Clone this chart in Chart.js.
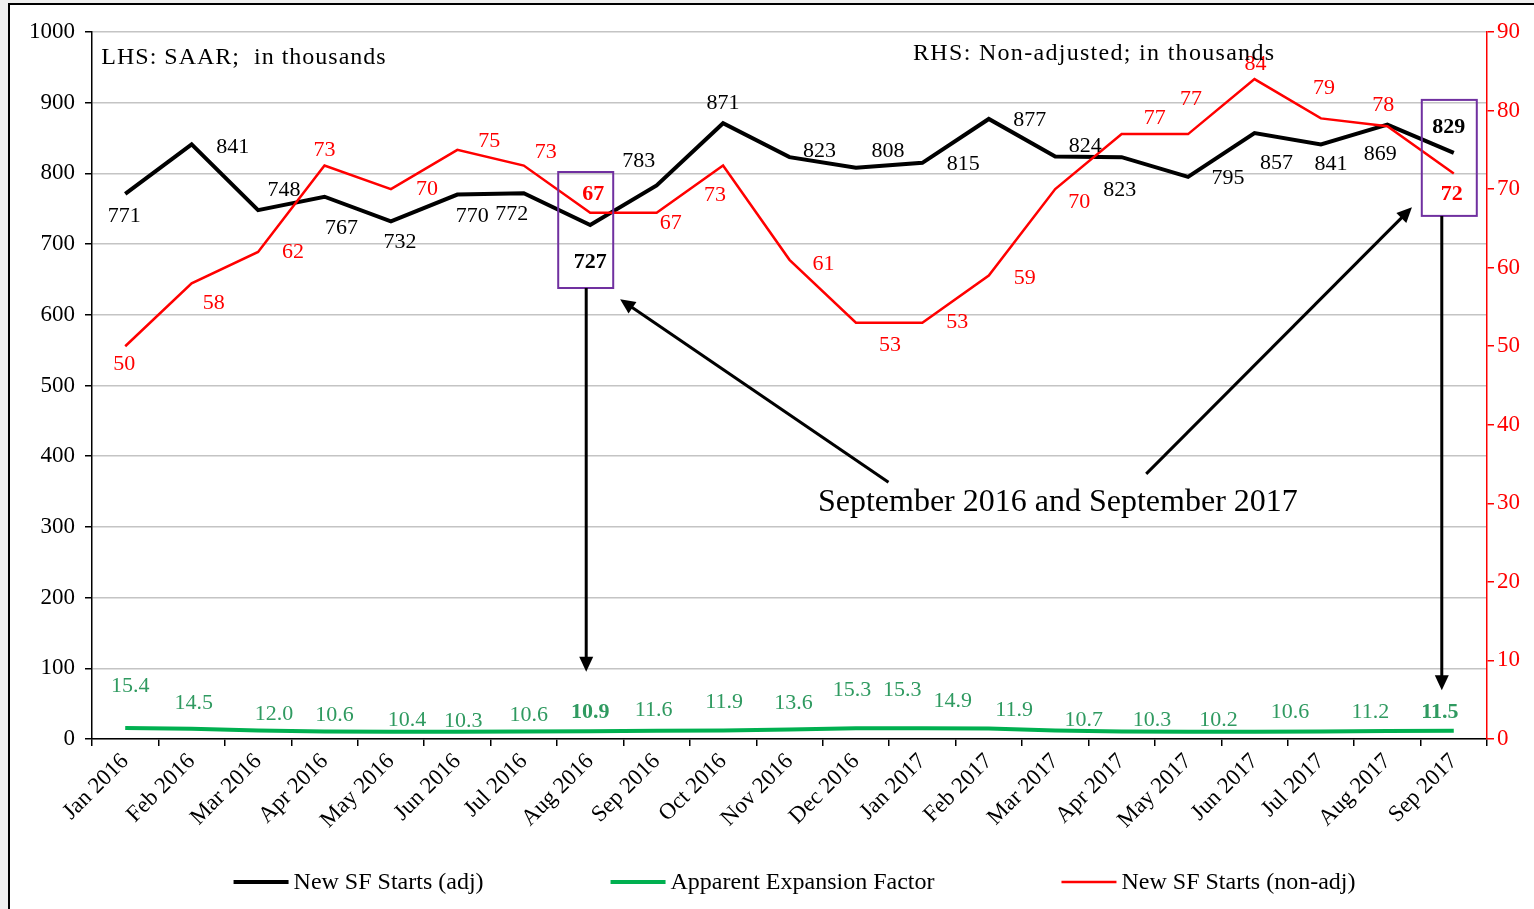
<!DOCTYPE html>
<html><head><meta charset="utf-8">
<script src="https://cdn.jsdelivr.net/npm/chart.js@4/dist/chart.umd.min.js"></script>
<style>
html,body{margin:0;padding:0;background:#efefef;width:1534px;height:909px;overflow:hidden;}
#wrap{position:absolute;left:8px;top:3px;width:1526px;height:906px;background:#fff;border-left:2px solid #000;border-top:2px solid #000;}
canvas{display:block}
</style></head><body>
<div id="wrap"><canvas id="c" width="1524" height="904"></canvas></div>
<script>
const categories = ['Jan 2016','Feb 2016','Mar 2016','Apr 2016','May 2016','Jun 2016','Jul 2016','Aug 2016','Sep 2016','Oct 2016','Nov 2016','Dec 2016','Jan 2017','Feb 2017','Mar 2017','Apr 2017','May 2017','Jun 2017','Jul 2017','Aug 2017','Sep 2017'];
const sfStartsAdj = [771,841,748,767,732,770,772,727,783,871,823,808,815,877,824,823,795,857,841,869,829];
const expansionFactor = [15.4,14.5,12.0,10.6,10.4,10.3,10.6,10.9,11.6,11.9,13.6,15.3,15.3,14.9,11.9,10.7,10.3,10.2,10.6,11.2,11.5];
const sfStartsNonAdj = [50,58,62,73,70,75,73,67,67,73,61,53,53,59,70,77,77,84,79,78,72];
const leftTicks = [0,100,200,300,400,500,600,700,800,900,1000];
const rightTicks = [0,10,20,30,40,50,60,70,80,90];
const highlighted = [7, 20];

// label offsets (styling), in pixels relative to each point
const adjOffsets = [[-1,22],[41,3],[26,-20],[17,31],[9,21],[15,22],[-12,21],[0,37],[-18,-24],[0,-20],[30,-6],[32,-17],[41,1],[41,1],[30,-10],[-2,33],[40,1],[22,30],[10,20],[-7,30],[-5,-26]];
const nonAdjOffsets = [[-1,18],[22,20],[35,0],[0,-15],[36,0],[32,-9],[22,-13],[3,-18],[14,11],[-8,30],[34,4],[34,23],[35,0],[36,3],[24,13],[33,-16],[3,-35],[1,-15],[3,-30],[-4,-21],[-2,21]];
const efOffsets = [[5,-42],[2,-26],[16,-16],[10,-16],[16,-11],[6,-10],[5,-16],[0,-19],[-3,-21],[1,-28],[4,-26],[-4,-38],[-20,-38],[-36,-27],[-41,-20],[-38,-11],[-36,-11],[-36,-12],[-31,-19],[-17,-19],[-14,-19]];

const SERIF = '"Liberation Serif","Times New Roman",serif';

function arrow(ctx, x1, y1, x2, y2){
  const ang = Math.atan2(y2-y1, x2-x1);
  const L = 15, W = 7;
  ctx.beginPath();
  ctx.moveTo(x1,y1);
  ctx.lineTo(x2 - Math.cos(ang)*L*0.8, y2 - Math.sin(ang)*L*0.8);
  ctx.stroke();
  ctx.beginPath();
  ctx.moveTo(x2,y2);
  ctx.lineTo(x2 - Math.cos(ang)*L - Math.sin(ang)*W, y2 - Math.sin(ang)*L + Math.cos(ang)*W);
  ctx.lineTo(x2 - Math.cos(ang)*L + Math.sin(ang)*W, y2 - Math.sin(ang)*L - Math.cos(ang)*W);
  ctx.closePath();
  ctx.fill();
}

const annot = {
  id: 'annot',
  afterDatasetsDraw(chart){
    const ctx = chart.ctx;
    const xs = chart.scales.x, ys = chart.scales.y;
    const P = (i, v) => [xs.getPixelForValue(i), ys.getPixelForValue(v)];
    ctx.save();
    // data labels
    const sets = [
      {ds:0, offs: adjOffsets, color:'#000000'},
      {ds:1, offs: efOffsets, color:'#2f9a60', fmt: v => v.toFixed(1)},
      {ds:2, offs: nonAdjOffsets, color:'#ff0000'}
    ];
    ctx.textAlign = 'center';
    ctx.textBaseline = 'middle';
    sets.forEach(s => {
      const meta = chart.getDatasetMeta(s.ds);
      const data = chart.data.datasets[s.ds].data;
      meta.data.forEach((pt, i) => {
        const bold = highlighted.includes(i);
        ctx.font = (bold ? 'bold ' : '') + '22px ' + SERIF;
        ctx.fillStyle = s.color;
        const txt = s.fmt ? s.fmt(data[i]) : String(data[i]);
        ctx.fillText(txt, pt.x + s.offs[i][0], pt.y + s.offs[i][1]);
      });
    });
    // highlight boxes
    const meta0 = chart.getDatasetMeta(0);
    const arrowTips = [95, 69];
    const arrowDx = [-4, -12];
    highlighted.forEach((i, k) => {
      const pt = meta0.data[i];
      ctx.strokeStyle = '#7030a0';
      ctx.lineWidth = 2;
      ctx.strokeRect(pt.x - 32, pt.y - 53, 55, 116);
      ctx.strokeStyle = '#000'; ctx.fillStyle = '#000'; ctx.lineWidth = 3;
      arrow(ctx, pt.x + arrowDx[k], pt.y + 63, pt.x + arrowDx[k], ys.getPixelForValue(arrowTips[k]));
    });
    // diagonal arrows
    ctx.strokeStyle = '#000'; ctx.fillStyle = '#000'; ctx.lineWidth = 3;
    let a = P(11.49, 363), b = P(7.45, 622);
    arrow(ctx, a[0], a[1], b[0], b[1]);
    a = P(15.37, 375); b = P(19.37, 752);
    arrow(ctx, a[0], a[1], b[0], b[1]);
    // texts
    ctx.fillStyle = '#000';
    ctx.font = '32px ' + SERIF;
    ctx.textAlign = 'center';
    let t = P(14.04, 334);
    ctx.fillText('September 2016 and September 2017', t[0], t[1]);
    ctx.font = '24px ' + SERIF;
    ctx.textAlign = 'left';
    ctx.letterSpacing = '1px';
    t = P(-0.36, 963);
    ctx.fillText('LHS: SAAR;  in thousands', t[0], t[1]);
    ctx.letterSpacing = '1.3px';
    t = P(11.86, 969);
    ctx.fillText('RHS: Non-adjusted; in thousands', t[0], t[1]);
    ctx.letterSpacing = '0px';
    // legend
    ctx.font = '24px ' + SERIF;
    ctx.textBaseline = 'middle';
    const lineW = 55, gapTxt = 5, gapItem = 127;
    const items = chart.data.datasets.map(d => ({label: d.label, color: d.borderColor, w: d.borderWidth}));
    const widths = items.map(it => lineW + gapTxt + ctx.measureText(it.label).width);
    const total = widths.reduce((s, w) => s + w, 0) + gapItem * (items.length - 1);
    const ca = chart.chartArea;
    let lx = (ca.left + ca.right) / 2 + 5 - total / 2;
    const ly = chart.height - 27;
    items.forEach((it, k) => {
      ctx.strokeStyle = it.color; ctx.lineWidth = it.w;
      ctx.beginPath(); ctx.moveTo(lx, ly); ctx.lineTo(lx + lineW, ly); ctx.stroke();
      ctx.fillStyle = '#000';
      ctx.fillText(it.label, lx + lineW + gapTxt, ly + 1);
      lx += widths[k] + gapItem;
    });
    ctx.restore();
  }
};

new Chart(document.getElementById('c'), {
  type: 'line',
  data: {
    labels: categories,
    datasets: [
      {label:'New SF Starts (adj)', data: sfStartsAdj, yAxisID:'y', borderColor:'#000000', backgroundColor:'#000', borderWidth:4, pointRadius:0, order:2},
      {label:'Apparent Expansion Factor', data: expansionFactor, yAxisID:'y', borderColor:'#00b050', backgroundColor:'#00b050', borderWidth:4, pointRadius:0, order:1},
      {label:'New SF Starts (non-adj)', data: sfStartsNonAdj, yAxisID:'y2', borderColor:'#ff0000', backgroundColor:'#ff0000', borderWidth:2.5, pointRadius:0, order:0}
    ]
  },
  options: {
    responsive: false,
    animation: false,
    events: [],
    layout: {padding: {top: 27, left: 0, right: 0, bottom: 58}},
    plugins: {
      tooltip: {enabled:false},
      legend: {display: false}
    },
    scales: {
      x: {
        offset: true,
        grid: {offset: true, drawOnChartArea: false, drawTicks: true, tickLength: 7, color: '#000', lineWidth: 1.5},
        border: {color: '#000', width: 1.5},
        ticks: {font: {family: SERIF, size: 23}, color: '#000', maxRotation: 45, minRotation: 45, autoSkip: false, padding: 2},
        afterFit: s => { s.height = 112; }
      },
      y: {
        position: 'left', min: 0, max: 1000,
        afterBuildTicks: s => { s.ticks = leftTicks.map(v => ({value: v})); },
        grid: {color: '#c4c4c4', lineWidth: 1.5, tickLength: 7, tickColor: '#000'},
        border: {color: '#000', width: 1.5},
        ticks: {font: {family: SERIF, size: 23}, color: '#000', padding: 10, callback: v => String(v)},
        afterFit: s => { s.width = 82; }
      },
      y2: {
        position: 'right', min: 0, max: 90,
        afterBuildTicks: s => { s.ticks = rightTicks.map(v => ({value: v})); },
        grid: {drawOnChartArea: false, tickLength: 7, color: '#ff0000', lineWidth: 1.5},
        border: {color: '#ff0000', width: 1.5},
        ticks: {font: {family: SERIF, size: 23}, color: '#ff0000', padding: 3, callback: v => String(v)},
        afterFit: s => { s.width = 47; }
      }
    }
  },
  plugins: [annot]
});
</script>
</body></html>
